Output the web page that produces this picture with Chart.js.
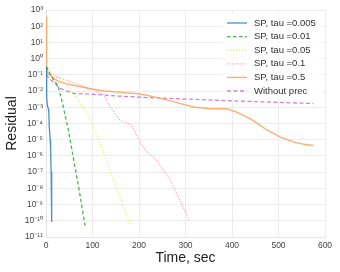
<!DOCTYPE html>
<html>
<head>
<meta charset="utf-8">
<script src="https://cdn.jsdelivr.net/npm/chart.js@4/dist/chart.umd.min.js"></script>
<style>
  html, body { margin: 0; padding: 0; background: #fff; }
  #wrap { width: 340px; height: 272px; }
</style>
</head>
<body>
<div id="wrap"><canvas id="residual_chart"></canvas></div>
<script>
// values
const seriesNames = ['SP, tau =0.005', 'SP, tau =0.01', 'SP, tau =0.05', 'SP, tau =0.1', 'SP, tau =0.5', 'Without prec'];

const timeTau0005 = [0, 1, 2, 3, 5, 6, 7, 9, 10, 11, 12, 12.5];
const resTau0005 = [3.2e-1, 3.2e-2, 4e-3, 1.3e-3, 8e-4, 5e-4, 6.3e-5, 1e-5, 2.5e-6, 1e-7, 3.2e-9, 8.5e-11];

const timeTau001 = [0, 8, 16, 26, 35, 48, 60, 70, 80, 84];
const resTau001 = [3.2e-1, 1.3e-1, 5e-2, 2.2e-2, 2e-3, 4e-5, 5e-7, 1.3e-8, 2.5e-10, 5e-11];

const timeTau005 = [0, 15, 30, 45, 60, 75, 90, 105, 120, 140, 160, 181];
const resTau005 = [3.2e-1, 1.3e-1, 5.6e-2, 2e-2, 6.3e-3, 1.6e-3, 3.5e-4, 4e-5, 3.2e-6, 8e-8, 2.5e-9, 6.3e-11];

const timeTau01 = [0, 10, 30, 73, 100, 123, 138, 159, 184, 195, 213, 238, 267, 288, 309];
const resTau01 = [2e-1, 1e-1, 6.3e-2, 2.3e-2, 1.3e-2, 6.3e-3, 1.1e-3, 1.6e-4, 8e-5, 1.9e-5, 2.3e-6, 5.5e-7, 3.2e-8, 1.9e-9, 1e-10];

const timeTau05 = [0, 1.5, 5, 10, 20, 30, 50, 73, 100, 130, 160, 200, 238, 270, 300, 320, 350, 392, 410, 439, 460, 475, 503, 532, 555, 575];
const resTau05 = [4e2, 1.6e-1, 1.1e-1, 8.9e-2, 5e-2, 3.7e-2, 2.5e-2, 1.9e-2, 1.3e-2, 1e-2, 8.3e-3, 6.8e-3, 4.1e-3, 2.4e-3, 1.4e-3, 1e-3, 8.5e-4, 7.8e-4, 5e-4, 2e-4, 7.9e-5, 4e-5, 1.5e-5, 7.4e-6, 5.2e-6, 4.4e-6];

const timeNoPrec = [0, 10, 30, 58, 95, 150, 224, 300, 400, 500, 575];
const resNoPrec = [1e-1, 5e-2, 1.5e-2, 7.2e-3, 6.5e-3, 5e-3, 3.9e-3, 3.2e-3, 2.5e-3, 2e-3, 1.7e-3];

const xTicks = [0, 100, 200, 300, 400, 500, 600];
const yExponents = [-11, -10, -9, -8, -7, -6, -5, -4, -3, -2, -1, 0, 1, 2, 3];

const FONT = "'Liberation Sans', Arial, sans-serif";

function toPoints(times, values) {
    return times.map((t, i) => ({ x: t, y: values[i] }));
}

const supDigits = { '0': '⁰', '1': '¹', '2': '²', '3': '³', '4': '⁴', '5': '⁵', '6': '⁶', '7': '⁷', '8': '⁸', '9': '⁹', '-': '⁻' };
function powerLabel(e) {
    return '10' + String(e).split('').map(c => supDigits[c]).join('');
}

const datasets = [
    { label: seriesNames[0], data: toPoints(timeTau0005, resTau0005), borderColor: 'rgba(31,119,180,0.8)', borderWidth: 1.3, borderDash: [] },
    { label: seriesNames[1], data: toPoints(timeTau001, resTau001), borderColor: 'rgba(44,170,44,0.85)', borderWidth: 1.3, borderDash: [3.5, 2.5] },
    { label: seriesNames[2], data: toPoints(timeTau005, resTau005), borderColor: 'rgba(190,255,40,0.9)', borderWidth: 1.2, borderDash: [1, 2] },
    { label: seriesNames[3], data: toPoints(timeTau01, resTau01), borderColor: 'rgba(255,130,150,0.8)', borderWidth: 1.2, borderDash: [1, 1.5] },
    { label: seriesNames[4], data: toPoints(timeTau05, resTau05), borderColor: 'rgba(255,160,90,0.85)', borderWidth: 1.4, borderDash: [] },
    { label: seriesNames[5], data: toPoints(timeNoPrec, resNoPrec), borderColor: 'rgba(190,100,210,0.8)', borderWidth: 1.3, borderDash: [4, 2.5] }
];
datasets.forEach(d => { d.pointRadius = 0; d.fill = false; d.tension = 0; });

// legend drawn inside the plot, top right
const insideLegend = {
    id: 'insideLegend',
    afterDatasetsDraw(chart) {
        const ctx = chart.ctx;
        const area = chart.chartArea;
        const boxRight = area.right - 3;
        const boxLeft = boxRight - 100;
        const top = area.top + 4;
        const rowH = 13.6;
        ctx.save();
        ctx.fillStyle = 'rgba(255,255,255,0.85)';
        ctx.fillRect(boxLeft, top, 100, rowH * datasets.length + 3);
        ctx.font = '9.5px ' + FONT;
        ctx.textBaseline = 'middle';
        chart.data.datasets.forEach((ds, i) => {
            const y = top + 9 + i * rowH;
            ctx.strokeStyle = ds.borderColor;
            ctx.lineWidth = ds.borderWidth;
            ctx.setLineDash(ds.borderDash);
            ctx.beginPath();
            ctx.moveTo(boxLeft + 5, y);
            ctx.lineTo(boxLeft + 25, y);
            ctx.stroke();
            ctx.setLineDash([]);
            ctx.fillStyle = '#333';
            ctx.fillText(ds.label, boxLeft + 32, y);
        });
        ctx.restore();
    }
};

new Chart(document.getElementById('residual_chart'), {
    type: 'line',
    data: { datasets: datasets },
    options: {
        responsive: true,
        maintainAspectRatio: false,
        animation: false,
        layout: { padding: { top: 10, right: 15, left: 0, bottom: 0 } },
        plugins: { legend: { display: false }, tooltip: { enabled: false } },
        scales: {
            x: {
                type: 'linear',
                min: 0,
                max: 600,
                afterBuildTicks: scale => { scale.ticks = xTicks.map(v => ({ value: v })); },
                afterFit: scale => { scale.height = 35; },
                grid: { color: '#ececec', drawTicks: false },
                border: { color: '#e4e4e4' },
                ticks: { padding: 4, color: '#444', font: { family: FONT, size: 8.5 } },
                title: { display: true, text: 'Time, sec', color: '#222', font: { family: FONT, size: 14 }, padding: { top: 0, bottom: 5 } }
            },
            y: {
                type: 'logarithmic',
                min: 1e-11,
                max: 1e3,
                afterBuildTicks: scale => { scale.ticks = yExponents.map(e => ({ value: Math.pow(10, e), exp: e })); },
                afterFit: scale => { scale.width = 46; },
                grid: { color: '#ececec', drawTicks: false },
                border: { color: '#e4e4e4' },
                ticks: {
                    padding: 3,
                    color: '#444',
                    font: { family: FONT, size: 8.5 },
                    autoSkip: false,
                    callback: (value, index) => powerLabel(yExponents[index])
                },
                title: { display: true, text: 'Residual', color: '#222', font: { family: FONT, size: 14 }, padding: { top: 4, bottom: 0 } }
            }
        }
    },
    plugins: [insideLegend]
});
</script>
</body>
</html>
